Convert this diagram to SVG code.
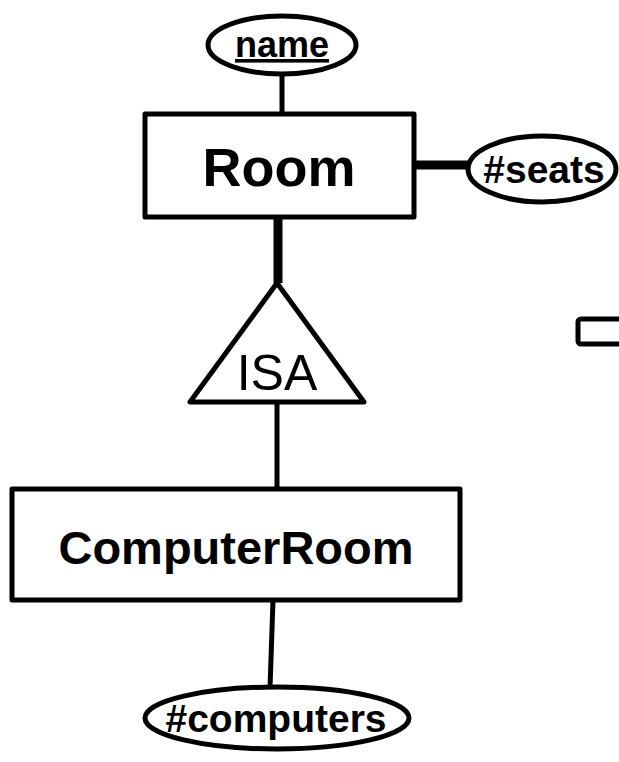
<svg xmlns="http://www.w3.org/2000/svg" width="619" height="762" viewBox="0 0 619 762">
  <style>
    .shape { fill: #ffffff; stroke: #000000; stroke-width: 5; stroke-linejoin: round; }
    .edge { stroke: #000000; fill: none; }
    .thin { stroke-width: 5; }
    .thick { stroke-width: 9; }
    .lbl { font-family: "Liberation Sans", Arial, sans-serif; font-weight: bold; fill: #000000; text-anchor: middle; }
    .isa { font-family: "Liberation Sans", Arial, sans-serif; font-weight: normal; fill: #000000; text-anchor: middle; }
  </style>

  <!-- connectors -->
  <g id="connectors">
    <line class="edge thin" x1="282" y1="74" x2="282" y2="114"/>
    <line class="edge thick" x1="414" y1="165" x2="469" y2="165"/>
    <line class="edge thick" x1="278" y1="217" x2="278" y2="283"/>
    <line class="edge thin" x1="277" y1="402" x2="277" y2="489"/>
    <line class="edge thin" x1="273" y1="600" x2="270" y2="688"/>
  </g>

  <!-- attribute: name (key) -->
  <g id="attr-name">
    <ellipse class="shape" cx="282" cy="45" rx="74" ry="29"/>
    <text class="lbl" x="282" y="57" font-size="36" text-decoration="underline">name</text>
  </g>

  <!-- entity: Room -->
  <g id="entity-room">
    <rect class="shape" x="145" y="114" width="269" height="103"/>
    <text class="lbl" x="279" y="186" font-size="54">Room</text>
  </g>

  <!-- attribute: #seats -->
  <g id="attr-seats">
    <ellipse class="shape" cx="542" cy="169" rx="74" ry="33"/>
    <text class="lbl" x="544" y="183" font-size="39">#seats</text>
  </g>

  <!-- ISA triangle -->
  <g id="isa">
    <polygon class="shape" points="277,283 190,402 364,402"/>
    <text class="isa" x="277" y="390" font-size="50">ISA</text>
  </g>

  <!-- entity: ComputerRoom -->
  <g id="entity-computerroom">
    <rect class="shape" x="12" y="489" width="448" height="111"/>
    <text class="lbl" x="236" y="564" font-size="47">ComputerRoom</text>
  </g>

  <!-- attribute: #computers -->
  <g id="attr-computers">
    <ellipse class="shape" cx="277" cy="718" rx="132" ry="31"/>
    <text class="lbl" x="276" y="732" font-size="39">#computers</text>
  </g>

  <!-- partial shape at the right margin -->
  <g id="fragment">
    <rect class="shape" x="578" y="319" width="60" height="25" rx="3"/>
  </g>
</svg>
